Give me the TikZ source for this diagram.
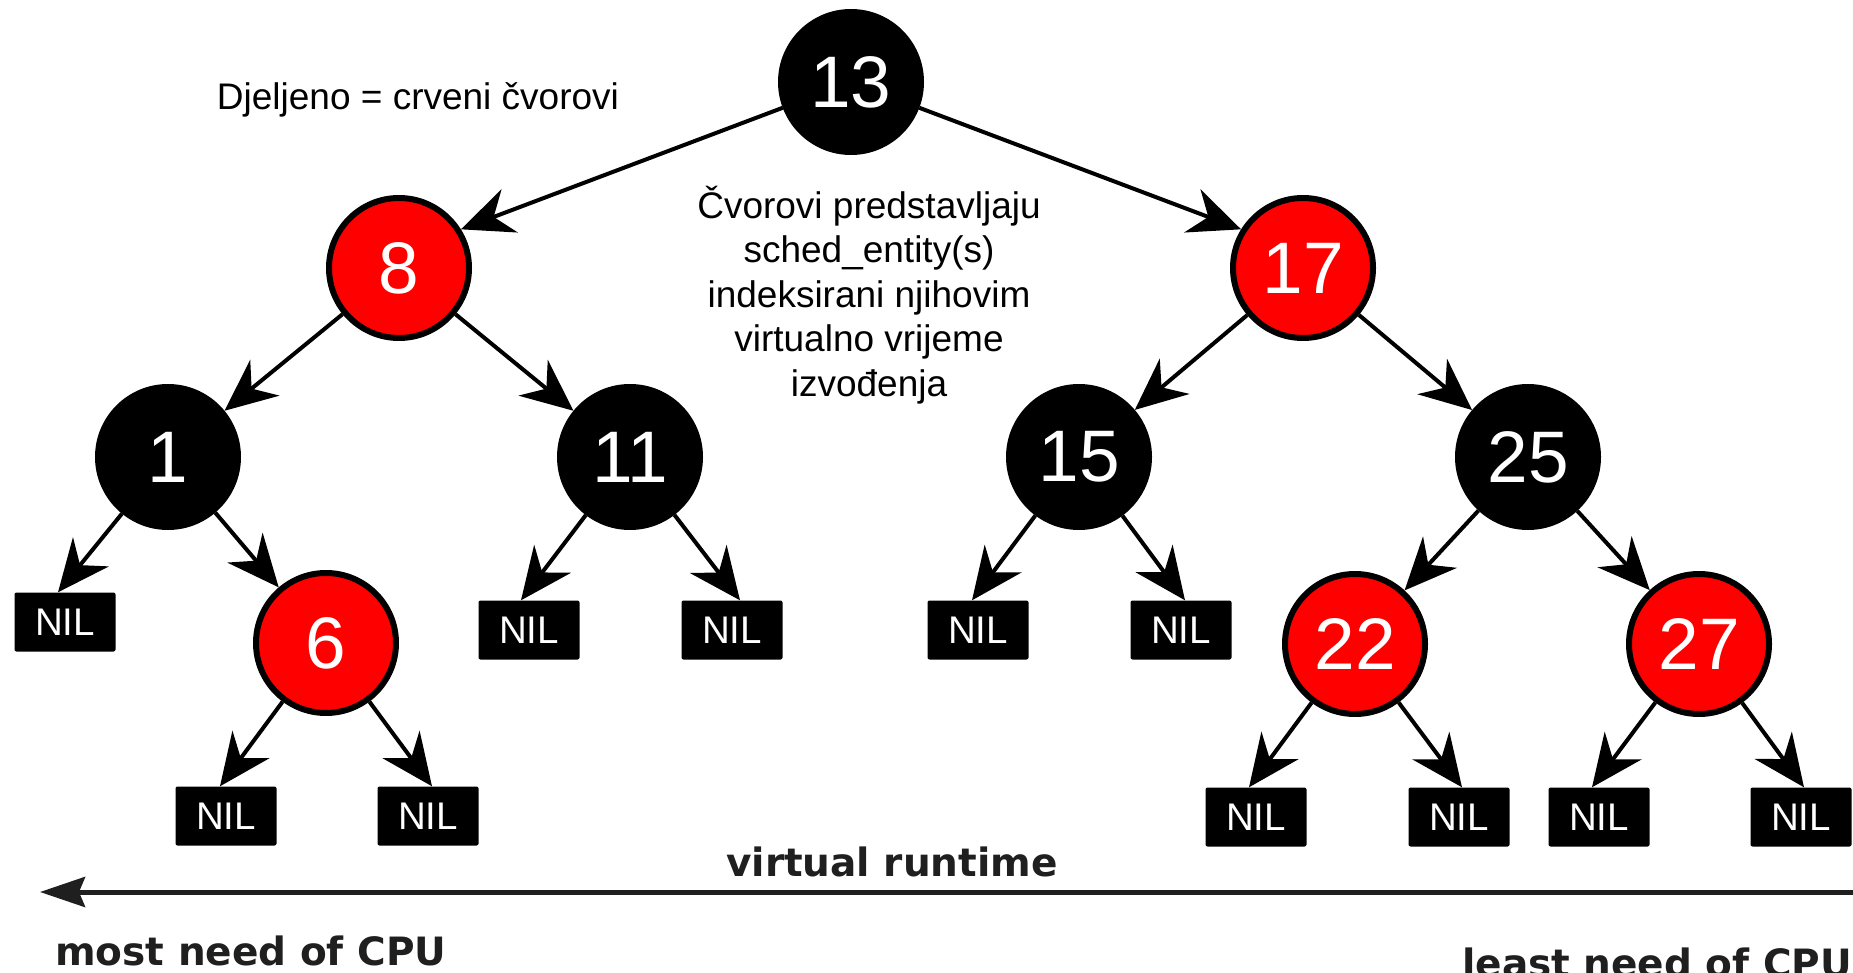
\documentclass[tikz,border=0pt]{standalone}
\usepackage{tikz}
\usepackage{xcolor}
\usepackage{fontspec}
\setmainfont{Liberation Sans}
\newfontfamily\axisfont{DejaVu Sans}
\usetikzlibrary{arrows.meta}
\newcommand{\nodesize}{140pt}
\newcommand{\redcolor}{red}
\newcommand{\axiscolor}{black!88}
\newcommand{\keyfont}{\fontsize{73}{86}\selectfont}
\newcommand{\nilfont}{\fontsize{38.5}{44}\selectfont}
\newcommand{\notefont}{\fontsize{37}{44.6}\selectfont}
\newcommand{\runfont}{\axisfont\bfseries\fontsize{39}{47}\selectfont}

\begin{document}
\begin{tikzpicture}[x=1pt, y=-1pt, >={Stealth[length=52pt, width=46pt, inset=17pt]},
    blacknode/.style={circle, draw=black, fill=black, line width=6pt, minimum size=\nodesize, inner sep=0pt, text=white, font=\keyfont},
    rednode/.style={blacknode, fill=\redcolor},
    nilnode/.style={rectangle, fill=black, rounded corners=2pt, minimum width=101pt, minimum height=59pt, inner sep=0pt, text=white, font=\nilfont},
    edge/.style={->, line width=4pt}]
    \useasboundingbox (0, 0) rectangle (1853, 973);

    % tree nodes
    \node [blacknode] (n13) at (851, 82) {13};
    \node [rednode] (n8) at (399, 268) {8};
    \node [rednode] (n17) at (1303, 268) {17};
    \node [blacknode] (n1) at (168, 457) {1};
    \node [blacknode] (n11) at (630, 457) {11};
    \node [blacknode] (n15) at (1079, 457) {15};
    \node [blacknode] (n25) at (1528, 457) {25};
    \node [rednode] (n6) at (326, 643) {6};
    \node [rednode] (n22) at (1355, 644) {22};
    \node [rednode] (n27) at (1699, 644) {27};

    % leaves
    \node [nilnode] (nil1l) at (65, 622) {NIL};
    \node [nilnode] (nil6l) at (226, 816) {NIL};
    \node [nilnode] (nil6r) at (428, 816) {NIL};
    \node [nilnode] (nil11l) at (529, 630) {NIL};
    \node [nilnode] (nil11r) at (732, 630) {NIL};
    \node [nilnode] (nil15l) at (978, 630) {NIL};
    \node [nilnode] (nil15r) at (1181, 630) {NIL};
    \node [nilnode] (nil22l) at (1256, 817) {NIL};
    \node [nilnode] (nil22r) at (1459, 817) {NIL};
    \node [nilnode] (nil27l) at (1599, 817) {NIL};
    \node [nilnode] (nil27r) at (1801, 817) {NIL};

    % edges
    \draw [edge] (n13) -- (n8.32);
    \draw [edge] (n13) -- (n17.148);
    \draw [edge] (n8) -- (n1);
    \draw [edge] (n8) -- (n11);
    \draw [edge] (n17) -- (n15);
    \draw [edge] (n17) -- (n25);
    \draw [edge] (n1) -- ([xshift=-7pt]nil1l.north);
    \draw [edge] (n1) -- (n6);
    \draw [edge] (n6) -- ([xshift=-6pt]nil6l.north);
    \draw [edge] (n6) -- ([xshift=4pt]nil6r.north);
    \draw [edge] (n11) -- ([xshift=-8pt]nil11l.north);
    \draw [edge] (n11) -- ([xshift=8pt]nil11r.north);
    \draw [edge] (n15) -- ([xshift=-6pt]nil15l.north);
    \draw [edge] (n15) -- ([xshift=4pt]nil15r.north);
    \draw [edge] (n25) -- (n22);
    \draw [edge] (n25) -- (n27);
    \draw [edge] (n22) -- ([xshift=-7pt]nil22l.north);
    \draw [edge] (n22) -- ([xshift=3pt]nil22r.north);
    \draw [edge] (n27) -- ([xshift=-7pt]nil27l.north);
    \draw [edge] (n27) -- ([xshift=3pt]nil27r.north);

    % notes
    \node [anchor=base, font=\notefont] (shared) at (418, 110) {Djeljeno = crveni čvorovi};
    \node [anchor=center, align=center, font=\notefont, inner sep=0pt] (meaning) at (869, 295)
        {Čvorovi predstavljaju\\sched\_entity(s)\\indeksirani njihovim\\virtualno vrijeme\\izvođenja};

    % runtime axis
    \coordinate (rt) at (1860, 892);
    \coordinate (lt) at (40, 892);
    \draw [->, >={Stealth[length=45pt, width=30pt, inset=6pt]}, draw=\axiscolor, line width=5pt] (rt) -- (lt);
    \node [anchor=base, font=\runfont, text=\axiscolor] (vrt) at (892, 876) {virtual runtime};
    \node [anchor=base west, font=\runfont, text=\axiscolor, inner sep=0pt] (most) at (55, 965) {most need of CPU};
    \node [anchor=base west, font=\runfont, text=\axiscolor, inner sep=0pt] (least) at (1462, 977) {least need of CPU};
\end{tikzpicture}
\end{document}
